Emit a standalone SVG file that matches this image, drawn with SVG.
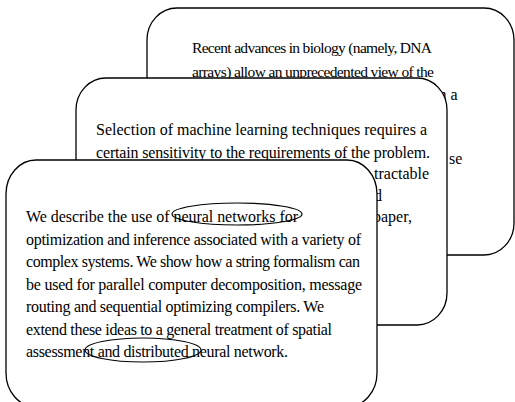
<svg xmlns="http://www.w3.org/2000/svg" width="515" height="402" viewBox="0 0 515 402">
<style>
.card{fill:#fff;stroke:#000;stroke-width:1.3}
.t{font-family:"Liberation Serif","Times New Roman",serif;font-size:16px;fill:#000}
.mark{fill:none;stroke:#000;stroke-width:1.2}
</style>
<rect width="515" height="402" fill="#fff"/>
<g id="card3">
<rect class="card" x="147" y="8" width="367" height="247" rx="30" ry="32"/>
<text class="t" x="192" y="53" textLength="240" lengthAdjust="spacing" style="font-size:15.5px">Recent advances in biology (namely, DNA</text>
<text class="t" x="192" y="77" textLength="242" lengthAdjust="spacing" style="font-size:15.5px">arrays) allow an unprecedented view of the</text>
<text class="t" x="434" y="100">in a</text>
<text class="t" x="449" y="164">se</text>
</g>
<g id="card2">
<rect class="card" x="76" y="78" width="371" height="247" rx="30" ry="32"/>
<text class="t" x="96" y="135" textLength="331" lengthAdjust="spacing">Selection of machine learning techniques requires a</text>
<text class="t" x="96" y="158" textLength="334" lengthAdjust="spacing">certain sensitivity to the requirements of the problem.</text>
<text class="t" x="374" y="179">tractable</text>
<text class="t" x="374" y="201">d</text>
<text class="t" x="373" y="222">paper,</text>
</g>
<g id="card1">
<rect class="card" x="6" y="160" width="371" height="247" rx="30" ry="34"/>
<text class="t" x="26" y="222" textLength="272" lengthAdjust="spacing">We describe the use of neural networks for</text>
<text class="t" x="26" y="244.5" textLength="335" lengthAdjust="spacing">optimization and inference associated with a variety of</text>
<text class="t" x="26" y="267" textLength="334" lengthAdjust="spacing">complex systems. We show how a string formalism can</text>
<text class="t" x="26" y="289.5" textLength="336" lengthAdjust="spacing">be used for parallel computer decomposition, message</text>
<text class="t" x="26" y="312" textLength="298" lengthAdjust="spacing">routing and sequential optimizing compilers. We</text>
<text class="t" x="26" y="334.5" textLength="306" lengthAdjust="spacing">extend these ideas to a general treatment of spatial</text>
<text class="t" x="26" y="357" textLength="262" lengthAdjust="spacing">assessment and distributed neural network.</text>
</g>
<g id="connectors">
<ellipse class="mark" cx="237" cy="214" rx="65" ry="11"/>
<ellipse class="mark" cx="143" cy="350" rx="58" ry="12"/>
</g>
</svg>
